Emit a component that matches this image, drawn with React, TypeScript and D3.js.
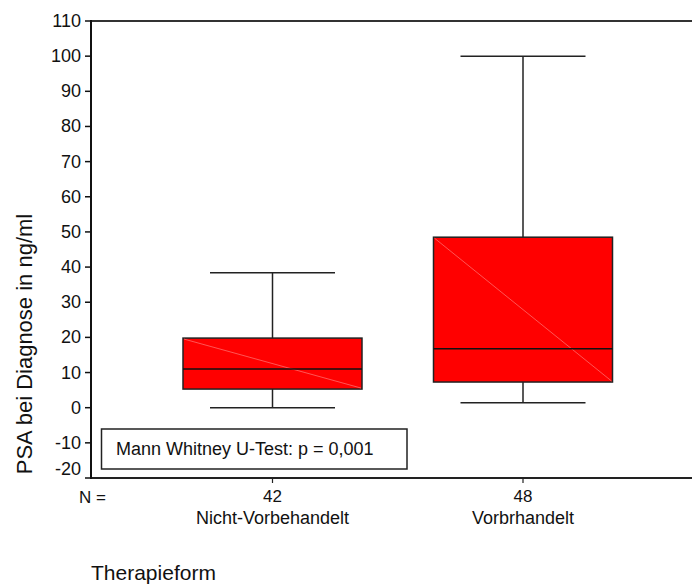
import React from "react";
import * as d3 from "d3";

// Group labels, case counts and five-number summaries (PSA at diagnosis, ng/ml)
const categories = ["Nicht-Vorbehandelt", "Vorbrhandelt"];
const counts = [42, 48];
const whiskerLow = [0, 1.4];
const q1 = [5.3, 7.3];
const medians = [11.0, 16.8];
const q3 = [19.8, 48.5];
const whiskerHigh = [38.4, 100];
const yTicks = [-20, -10, 0, 10, 20, 30, 40, 50, 60, 70, 80, 90, 100, 110];

const W = 692;
const H = 584;
const left = 91;
const top = 21;
const bottom = 478;
const right = W;
const font = "Arial, 'Liberation Sans', Helvetica, sans-serif";

export default function App() {
  const y = d3.scaleLinear().domain([-20, 110]).range([bottom, top]);
  const x = d3.scalePoint<string>().domain(categories).range([272.5, 523]);
  const boxHalf = 89.5;
  const capHalf = 62.5;

  return (
    <svg
      width={W}
      height={H}
      style={{ position: "absolute", left: 0, top: 0, background: "#fff" }}
      fontFamily={font}
    >
      {/* frame lines */}
      <line x1={left} x2={right} y1={top} y2={top} stroke="#333" strokeWidth={2} />
      <line x1={left} x2={right} y1={bottom} y2={bottom} stroke="#222" strokeWidth={2} />
      <line x1={left} x2={left} y1={top - 1} y2={bottom + 1} stroke="#111" strokeWidth={2} />

      {/* y ticks and labels */}
      {yTicks.map((t, i) => (
        <g key={t}>
          <line x1={left - 6} x2={left} y1={y(t)} y2={y(t)} stroke="#111" strokeWidth={1.5} />
          <text
            x={81}
            y={i === 0 ? y(t) - 9 : y(t)}
            textAnchor="end"
            dominantBaseline="central"
            fontSize={18}
            fill="#111"
          >
            {t}
          </text>
        </g>
      ))}

      {/* boxes */}
      {categories.map((c, i) => {
        const cx = x(c) as number;
        return (
          <g key={c}>
            <line x1={cx} x2={cx} y1={y(whiskerHigh[i])} y2={y(q3[i])} stroke="#222" strokeWidth={1.5} />
            <line x1={cx} x2={cx} y1={y(q1[i])} y2={y(whiskerLow[i])} stroke="#222" strokeWidth={1.5} />
            <line
              x1={cx - capHalf}
              x2={cx + capHalf}
              y1={y(whiskerHigh[i])}
              y2={y(whiskerHigh[i])}
              stroke="#222"
              strokeWidth={1.5}
            />
            <line
              x1={cx - capHalf}
              x2={cx + capHalf}
              y1={y(whiskerLow[i])}
              y2={y(whiskerLow[i])}
              stroke="#222"
              strokeWidth={1.5}
            />
            <rect
              x={cx - boxHalf}
              y={y(q3[i])}
              width={boxHalf * 2}
              height={y(q1[i]) - y(q3[i])}
              fill="#ff0000"
              stroke="#222"
              strokeWidth={1.5}
            />
            <line
              x1={cx - boxHalf + 1}
              y1={y(q3[i]) + 1}
              x2={cx + boxHalf - 1}
              y2={y(q1[i]) - 1}
              stroke="#ff6a6a"
              strokeWidth={0.8}
            />
            <line
              x1={cx - boxHalf}
              x2={cx + boxHalf}
              y1={y(medians[i])}
              y2={y(medians[i])}
              stroke="#111"
              strokeWidth={1.5}
            />
            <line x1={cx} x2={cx} y1={bottom} y2={bottom + 5} stroke="#222" strokeWidth={1.2} />
            <text x={cx} y={496} textAnchor="middle" dominantBaseline="central" fontSize={17} fill="#111">
              {counts[i]}
            </text>
            <text x={cx} y={518} textAnchor="middle" dominantBaseline="central" fontSize={18} fill="#111">
              {c}
            </text>
          </g>
        );
      })}

      <text x={106} y={497} textAnchor="end" dominantBaseline="central" fontSize={17} fill="#111">
        N =
      </text>

      {/* test result */}
      <rect x={101.5} y={429} width={305.5} height={40} fill="#fff" stroke="#222" strokeWidth={1.5} />
      <text x={116} y={449} dominantBaseline="central" fontSize={18} fill="#111">
        Mann Whitney U-Test: p = 0,001
      </text>

      {/* axis titles */}
      <text
        transform={`translate(32, 344) rotate(-90)`}
        textAnchor="middle"
        fontSize={22}
        fill="#111"
      >
        PSA bei Diagnose in ng/ml
      </text>
      <text x={91} y={580} fontSize={21} fill="#111">
        Therapieform
      </text>
    </svg>
  );
}
